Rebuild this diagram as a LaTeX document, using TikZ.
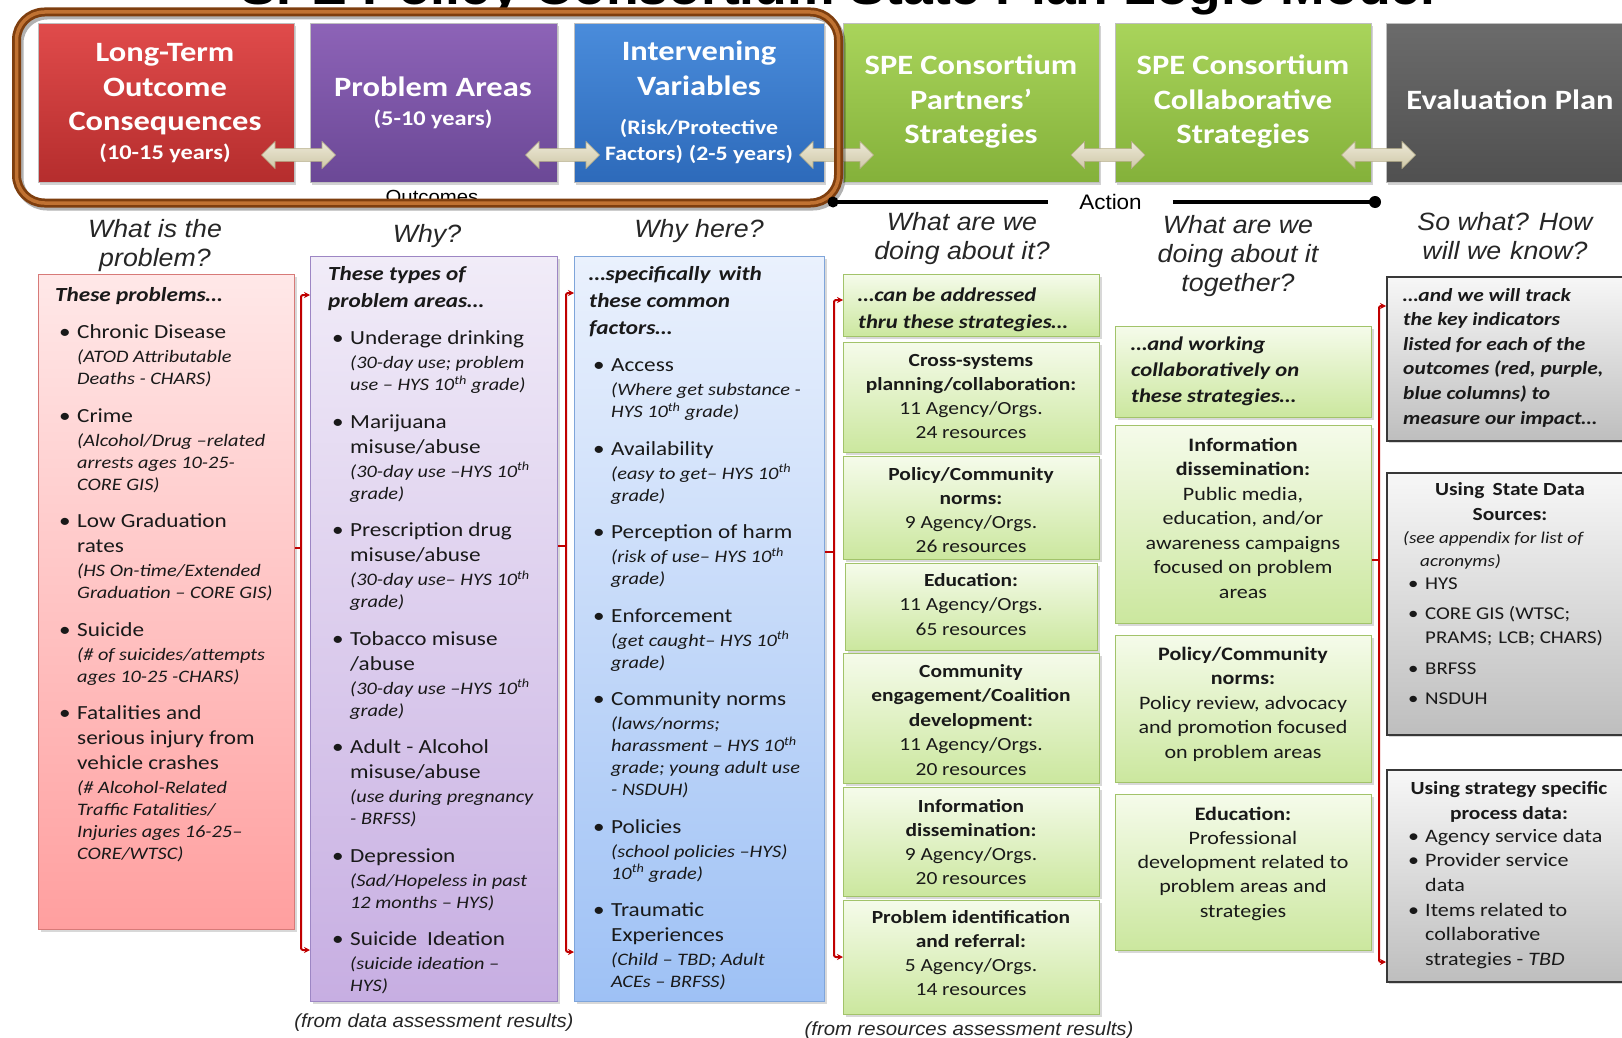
\documentclass[tikz,border=0pt]{standalone}
\usepackage{fontspec}
\setmainfont{Carlito}[FakeStretch=1.16]
\newfontfamily\arialf{Liberation Sans}[FakeStretch=1.07]
\usetikzlibrary{shapes.arrows,shadows,arrows.meta}

\definecolor{redT}{HTML}{E04B4B}\definecolor{redB}{HTML}{B52D2D}
\definecolor{purT}{HTML}{8D63B7}\definecolor{purB}{HTML}{6B4896}
\definecolor{bluT}{HTML}{4A8CDB}\definecolor{bluB}{HTML}{2D6ABA}
\definecolor{grnT}{HTML}{A9D45B}\definecolor{grnB}{HTML}{84B13A}
\definecolor{gryT}{HTML}{6B6B6B}\definecolor{gryB}{HTML}{505050}
\definecolor{rcT}{HTML}{FFE8E8}\definecolor{rcB}{HTML}{FF9F9F}\definecolor{rcL}{HTML}{D77A78}
\definecolor{pcT}{HTML}{F1ECF8}\definecolor{pcB}{HTML}{C7AEE2}\definecolor{pcL}{HTML}{9D86C4}
\definecolor{bcT}{HTML}{EAF1FD}\definecolor{bcB}{HTML}{9EC1F5}\definecolor{bcL}{HTML}{7FA5DA}
\definecolor{gcT}{HTML}{F5FBEA}\definecolor{gcB}{HTML}{CBE79E}\definecolor{gcL}{HTML}{A2C36A}
\definecolor{ecT}{HTML}{F7F7F7}\definecolor{ecB}{HTML}{BEBEBE}\definecolor{ecL}{HTML}{383838}
\definecolor{arT}{HTML}{ECE8D6}\definecolor{arB}{HTML}{CFC8A8}\definecolor{arL}{HTML}{B5AD88}
\definecolor{brkc}{HTML}{C00000}
\definecolor{rgD}{HTML}{7E3E0E}\definecolor{rgL}{HTML}{C07232}

\newlength\bw
\setlength\bw{22pt}
\newcommand\mainsz{\fontsize{20}{25}\selectfont}
\newcommand\detsz{\fontsize{17.5}{22}\selectfont\itshape}
\newcommand\hdsz{\fontsize{20}{27}\selectfont\bfseries\itshape}
\newcommand\bitem[2]{\par\vspace{12.5pt}{\mainsz\hangindent=\bw\hangafter=1\noindent\makebox[\bw][l]{\hspace{4pt}\textbullet}#1\par}{\detsz\leftskip=\bw\vspace{2pt}\noindent#2\par}}
\newcommand\gbul[1]{\par\hangindent=17pt\hangafter=1\noindent\makebox[17pt][l]{\textbullet}#1\par}
\newcommand\sth{\textsuperscript{th}}

\tikzset{
 hbox/.style={rectangle, anchor=north west, inner sep=0pt, draw=black!25, line width=0.5pt, drop shadow={shadow xshift=2pt,shadow yshift=-3pt,opacity=.35}},
 htxt/.style={anchor=base, inner sep=0pt, text=white, font=\bfseries},
 colbox/.style={rectangle, anchor=north west, inner sep=0pt, line width=1.3pt, drop shadow={shadow xshift=2pt,shadow yshift=-2.5pt,opacity=.3}},
 gbox/.style={colbox, draw=gcL, top color=gcT, bottom color=gcB, minimum width=256pt},
 ebox/.style={colbox, draw=ecL, top color=ecT, bottom color=ecB, minimum width=262pt, line width=1.6pt},
 ctxt/.style={anchor=base, inner sep=0pt, text=black!90},
 ltxt/.style={anchor=base west, inner sep=0pt, text=black!90},
 qtxt/.style={anchor=base, inner sep=0pt, text=black!85, font=\arialf\itshape\fontsize{25}{29}\selectfont},
 dbl/.style={double arrow, double arrow head extend=7pt, minimum height=74pt, minimum width=27pt, inner xsep=0pt, inner ysep=6pt, top color=arT, bottom color=arB, draw=arL, line width=0.6pt},
 brk/.style={draw=brkc, line width=2pt, rounded corners=2pt},
 brkarr/.style={brk, {Stealth[length=6pt,width=6pt]}-{Stealth[length=6pt,width=6pt]}},
 capt/.style={anchor=base, inner sep=0pt, text=black!85, font=\arialf\itshape\fontsize{19}{22}\selectfont}
}

\begin{document}
\begin{tikzpicture}[x=1pt,y=-1pt]
\useasboundingbox (0,0) rectangle (1622,1038);
\begin{scope}
\clip (0,0) rectangle (1622,1038);
\fill[white] (0,0) rectangle (1622,1038);

% title (cut by the top edge)
\node[anchor=base, inner sep=0pt, font=\arialf\bfseries\fontsize{50}{55}\selectfont] (title) at (838,5) {SPE Policy Consortium State Plan Logic Model};

% header boxes
\node[hbox, top color=redT, bottom color=redB, minimum width=256pt, minimum height=159pt] (hred) at (38,23) {};
\node[hbox, top color=purT, bottom color=purB, minimum width=247pt, minimum height=159pt] (hpur) at (310,23) {};
\node[hbox, top color=bluT, bottom color=bluB, minimum width=250pt, minimum height=159pt] (hblu) at (574,23) {};
\node[hbox, top color=grnT, bottom color=grnB, minimum width=256pt, minimum height=159pt] (hgr1) at (843,23) {};
\node[hbox, top color=grnT, bottom color=grnB, minimum width=256pt, minimum height=159pt] (hgr2) at (1115,23) {};
\node[hbox, top color=gryT, bottom color=gryB, minimum width=262pt, minimum height=159pt] (hgry) at (1386,23) {};

% header texts
\node[htxt] (tred) at (165,62) {\begin{minipage}[t]{250pt}\centering{\fontsize{28}{34.5}\selectfont Long-Term\\Outcome\\Consequences\par}{\fontsize{21}{29}\selectfont(10-15 years)\par}\end{minipage}};
\node[htxt] (tpur) at (433,97) {\begin{minipage}[t]{240pt}\centering{\fontsize{28}{34.5}\selectfont Problem Areas\par}{\fontsize{21}{29}\selectfont(5-10 years)\par}\end{minipage}};
\node[htxt] (tblu) at (699,61) {\begin{minipage}[t]{245pt}\centering{\fontsize{28}{34.5}\selectfont Intervening\\Variables\par}{\fontsize{20.5}{26}\selectfont\vspace{13pt}(Risk/Protective\\Factors)\hspace{6pt}(2-5 years)\par}\end{minipage}};
\node[htxt] (tgr1) at (971,75) {\begin{minipage}[t]{250pt}\centering\fontsize{28}{34.5}\selectfont SPE Consortium\\Partners’\\Strategies\end{minipage}};
\node[htxt] (tgr2) at (1243,75) {\begin{minipage}[t]{250pt}\centering\fontsize{28}{34.5}\selectfont SPE Consortium\\Collaborative\\Strategies\end{minipage}};
\node[htxt, font=\bfseries\fontsize{28}{34.5}\selectfont] (tgry) at (1510,110) {Evaluation Plan};

% Outcomes label (partly under the frame)
\node[anchor=base, inner sep=0pt, font=\arialf\fontsize{19}{22}\selectfont] (outc) at (432,203) {Outcomes};

% double arrows
\node[dbl] (a1) at (298.5,155) {};
\node[dbl] (a2) at (562.5,155) {};
\node[dbl] (a3) at (836.5,155) {};
\node[dbl] (a4) at (1108,155) {};
\node[dbl] (a5) at (1378.5,155) {};

% outcomes frame
\draw[black, opacity=.3, line width=9pt, rounded corners=28pt] (19,15) rectangle (841,206);
\draw[rgD, line width=9pt, rounded corners=28pt] (16.5,12) rectangle (838.5,203);
\draw[rgL, line width=3.5pt, rounded corners=28pt] (16.5,12) rectangle (838.5,203);

% action timeline
\coordinate (tlL) at (833,202);
\coordinate (tlR) at (1375,202);
\node[inner ysep=0pt, inner xsep=31pt, font=\arialf\fontsize{21}{24}\selectfont] (act) at (1110.5,202) {Action};
\draw[line width=4.5pt] (tlL) -- (act.west);
\draw[line width=4.5pt] (act.east) -- (tlR);
\fill (tlL) circle (5.5pt);
\fill (tlR) circle (6pt);

% questions
\node[qtxt] (q1) at (155,237) {\begin{minipage}[t]{250pt}\centering What is the\\problem?\end{minipage}};
\node[qtxt] (q2) at (427,242) {Why?};
\node[qtxt] (q3) at (699,237) {Why here?};
\node[qtxt] (q4) at (962,230) {\begin{minipage}[t]{250pt}\centering What are we\\doing about it?\end{minipage}};
\node[qtxt] (q5) at (1238,233.5) {\begin{minipage}[t]{250pt}\centering What are we\\doing about it\\together?\end{minipage}};
\node[qtxt] (q6) at (1505,230) {\begin{minipage}[t]{250pt}\centering So what?\hspace{10pt}How\\will we\hspace{9pt}know?\end{minipage}};

% column boxes
\node[colbox, draw=rcL, top color=rcT, bottom color=rcB, minimum width=256pt, minimum height=655pt] (cred) at (38,274) {};
\node[colbox, draw=pcL, top color=pcT, bottom color=pcB, minimum width=247pt, minimum height=745pt] (cpur) at (310,256) {};
\node[colbox, draw=bcL, top color=bcT, bottom color=bcB, minimum width=250pt, minimum height=745pt] (cblu) at (574,256) {};

\node[gbox, minimum height=62pt] (g1h) at (843,274) {};
\node[gbox, minimum height=110pt] (g1a) at (843,342) {};
\node[gbox, minimum height=103pt] (g1b) at (843,456) {};
\node[gbox, minimum height=87pt, minimum width=252pt] (g1c) at (845,563) {};
\node[gbox, minimum height=130pt] (g1d) at (843,653) {};
\node[gbox, minimum height=109pt] (g1e) at (843,787) {};
\node[gbox, minimum height=114pt] (g1f) at (843,900) {};

\node[gbox, minimum height=91pt] (g2h) at (1115,326) {};
\node[gbox, minimum height=198pt] (g2a) at (1115,425) {};
\node[gbox, minimum height=147pt] (g2b) at (1115,635) {};
\node[gbox, minimum height=156pt] (g2c) at (1115,794) {};

\node[ebox, minimum height=164pt] (e1) at (1386,276) {};
\node[ebox, minimum height=262pt] (e2) at (1386,472) {};
\node[ebox, minimum height=212pt] (e3) at (1386,769) {};

% red column text
\node[ltxt] (rtx) at (55,301) {\begin{minipage}[t]{300pt}{\hdsz These problems…\par}
\bitem{Chronic Disease}{(ATOD Attributable\\Deaths - CHARS)}
\bitem{Crime}{(Alcohol/Drug –related\\arrests ages 10-25-\\CORE GIS)}
\bitem{Low Graduation\\rates}{(HS On-time/Extended\\Graduation – CORE GIS)}
\bitem{Suicide}{(\# of suicides/attempts\\ages 10-25 -CHARS)}
\bitem{Fatalities and\\serious injury from\\vehicle crashes}{(\# Alcohol-Related\\Traffic Fatalities/\\Injuries ages 16-25–\\CORE/WTSC)}
\end{minipage}};

% purple column text
\node[ltxt] (ptx) at (328,280) {\begin{minipage}[t]{300pt}{\hdsz These types of\\problem areas…\par}
\bitem{Underage drinking}{(30-day use; problem\\use – HYS 10\sth{} grade)}
\bitem{Marijuana\\misuse/abuse}{(30-day use –HYS 10\sth\\grade)}
\bitem{Prescription drug\\misuse/abuse}{(30-day use– HYS 10\sth\\grade)}
\bitem{Tobacco misuse\\/abuse}{(30-day use –HYS 10\sth\\grade)}
\bitem{Adult - Alcohol\\misuse/abuse}{(use during pregnancy\\- BRFSS)}
\bitem{Depression}{(Sad/Hopeless in past\\12 months – HYS)}
\bitem{Suicide\hspace{10pt}Ideation}{(suicide ideation –\\HYS)}
\end{minipage}};

% blue column text
\node[ltxt] (btx) at (589,280) {\begin{minipage}[t]{300pt}{\hdsz …specifically\hspace{8pt}with\\these common\\factors…\par}
\bitem{Access}{(Where get substance -\\HYS 10\sth{} grade)}
\bitem{Availability}{(easy to get– HYS 10\sth\\grade)}
\bitem{Perception of harm}{(risk of use– HYS 10\sth\\grade)}
\bitem{Enforcement}{(get caught– HYS 10\sth\\grade)}
\bitem{Community norms}{(laws/norms;\\harassment – HYS 10\sth\\grade; young adult use\\- NSDUH)}
\bitem{Policies}{(school policies –HYS)\\10\sth{} grade)}
\bitem{Traumatic\\Experiences}{(Child – TBD; Adult\\ACEs – BRFSS)}
\end{minipage}};

% green column 1 text
\node[ltxt] (g1ht) at (858,301) {\begin{minipage}[t]{240pt}\fontsize{19.5}{27}\selectfont\bfseries\itshape …can be addressed\\thru these strategies…\end{minipage}};
\node[ctxt] (g1at) at (971,366) {\begin{minipage}[t]{250pt}\centering\fontsize{18.5}{24.3}\selectfont\textbf{Cross-systems}\\\textbf{planning/collaboration:}\\11 Agency/Orgs.\\24 resources\end{minipage}};
\node[ctxt] (g1bt) at (971,480) {\begin{minipage}[t]{250pt}\centering\fontsize{18.5}{24.3}\selectfont\textbf{Policy/Community}\\\textbf{norms:}\\9 Agency/Orgs.\\26 resources\end{minipage}};
\node[ctxt] (g1ct) at (971,586) {\begin{minipage}[t]{250pt}\centering\fontsize{18.5}{24.8}\selectfont\textbf{Education:}\\11 Agency/Orgs.\\65 resources\end{minipage}};
\node[ctxt] (g1dt) at (971,677) {\begin{minipage}[t]{250pt}\centering\fontsize{18.5}{24.5}\selectfont\textbf{Community}\\\textbf{engagement/Coalition}\\\textbf{development:}\\11 Agency/Orgs.\\20 resources\end{minipage}};
\node[ctxt] (g1et) at (971,812) {\begin{minipage}[t]{250pt}\centering\fontsize{18.5}{24.1}\selectfont\textbf{Information}\\\textbf{dissemination:}\\9 Agency/Orgs.\\20 resources\end{minipage}};
\node[ctxt] (g1ft) at (971,923) {\begin{minipage}[t]{250pt}\centering\fontsize{18.5}{24.3}\selectfont\textbf{Problem identification}\\\textbf{and referral:}\\5 Agency/Orgs.\\14 resources\end{minipage}};

% green column 2 text
\node[ltxt] (g2ht) at (1131,350) {\begin{minipage}[t]{240pt}\fontsize{19.5}{26}\selectfont\bfseries\itshape …and working\\collaboratively on\\these strategies…\end{minipage}};
\node[ctxt] (g2at) at (1243,451) {\begin{minipage}[t]{250pt}\centering\fontsize{19}{24.5}\selectfont\textbf{Information}\\\textbf{dissemination:}\\Public media,\\education, and/or\\awareness campaigns\\focused on problem\\areas\end{minipage}};
\node[ctxt] (g2bt) at (1243,660) {\begin{minipage}[t]{250pt}\centering\fontsize{19}{24.6}\selectfont\textbf{Policy/Community}\\\textbf{norms:}\\Policy review, advocacy\\and promotion focused\\on problem areas\end{minipage}};
\node[ctxt] (g2ct) at (1243,820) {\begin{minipage}[t]{250pt}\centering\fontsize{19}{24.3}\selectfont\textbf{Education:}\\Professional\\development related to\\problem areas and\\strategies\end{minipage}};

% gray column text
\node[ltxt] (e1t) at (1403,301) {\begin{minipage}[t]{230pt}\fontsize{18.5}{24.6}\selectfont\bfseries\itshape …and we will track\\the key indicators\\listed for each of the\\outcomes (red, purple,\\blue columns) to\\measure our impact…\end{minipage}};
\node[ctxt] (e2h) at (1510,495) {\begin{minipage}[t]{230pt}\centering\fontsize{18.5}{25}\selectfont\bfseries Using\hspace{8pt}State Data\\Sources:\end{minipage}};
\node[ltxt] (e2n) at (1403,543) {\begin{minipage}[t]{230pt}\fontsize{16.5}{23}\selectfont\itshape (see appendix for list of\\\hspace*{17pt}acronyms)\end{minipage}};
\node[ltxt] (e2l) at (1408,589) {\begin{minipage}[t]{230pt}\fontsize{18}{24}\selectfont\gbul{HYS}\vspace{6pt}\gbul{CORE GIS (WTSC;\\PRAMS;\hspace{6pt}LCB; CHARS)}\vspace{7pt}\gbul{BRFSS}\vspace{6pt}\gbul{NSDUH}\end{minipage}};
\node[ctxt] (e3h) at (1509,794) {\begin{minipage}[t]{230pt}\centering\fontsize{18.5}{25}\selectfont\bfseries Using strategy specific\\process data:\end{minipage}};
\node[ltxt] (e3l) at (1408,842) {\begin{minipage}[t]{230pt}\fontsize{19}{24.7}\selectfont\gbul{Agency service data}\gbul{Provider service\\data}\gbul{Items related to\\collaborative\\strategies - \textit{TBD}}\end{minipage}};

% red brackets
\draw[brkarr] (cpur.west |- 0,295) -- (301,295) -- (301,950) -- (cpur.west |- 0,950);
\draw[brk] (cred.east |- 0,548) -- (301,548);
\draw[brkarr] (cblu.west |- 0,293) -- (566,293) -- (566,952) -- (cblu.west |- 0,952);
\draw[brk] (cpur.east |- 0,546) -- (566,546);
\draw[brkarr] (g1h.west |- 0,300) -- (834,300) -- (834,957) -- (g1f.west |- 0,957);
\draw[brk] (cblu.east |- 0,552) -- (834,552);
\draw[brkarr] (e1.west |- 0,306) -- (1379,306) -- (1379,962) -- (e3.west |- 0,962);
\draw[brk] (g2a.east |- 0,560) -- (1379,560);

% captions
\node[capt] (cap1) at (434,1027) {(from data assessment results)};
\node[capt] (cap2) at (969,1035) {(from resources assessment results)};
\end{scope}
\end{tikzpicture}
\end{document}
